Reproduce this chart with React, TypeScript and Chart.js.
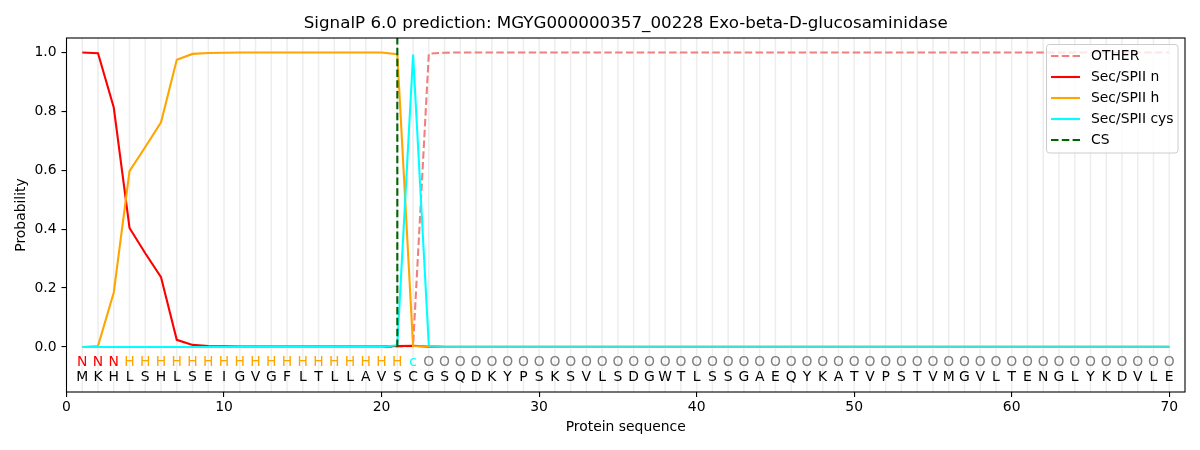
import React, { useEffect, useRef } from 'react';
import { Chart, registerables } from 'chart.js';

Chart.register(...registerables);

// residues and per-residue predicted labels
const residues = 'MKHLSHLSEIGVGFLTLLAVSCGSQDKYPSKSVLSDGWTLSSGAEQYKATVPSTVMGVLTENGLYKDVLE'.split('');
const regionLabels = ('NNN' + 'H'.repeat(18) + 'c' + 'O'.repeat(48)).split('');
const positions = residues.map((_, i) => i + 1);

const otherProb = [
  0, 0, 0, 0, 0, 0, 0, 0, 0, 0,
  0, 0, 0, 0, 0, 0, 0, 0, 0, 0,
  0.001, 0.003, 0.996, 0.999, 1, 1, 1, 1, 1, 1,
  1, 1, 1, 1, 1, 1, 1, 1, 1, 1,
  1, 1, 1, 1, 1, 1, 1, 1, 1, 1,
  1, 1, 1, 1, 1, 1, 1, 1, 1, 1,
  1, 1, 1, 1, 1, 1, 1, 1, 1, 1,
];
const nProb = [
  1.0, 0.997, 0.813, 0.404, 0.318, 0.237, 0.024, 0.007, 0.003, 0.002,
  0.001, 0.001, 0.001, 0.001, 0.001, 0.001, 0.001, 0.001, 0.001, 0.001,
  0.003, 0.004, 0.001, 0, 0, 0, 0, 0, 0, 0,
  0, 0, 0, 0, 0, 0, 0, 0, 0, 0,
  0, 0, 0, 0, 0, 0, 0, 0, 0, 0,
  0, 0, 0, 0, 0, 0, 0, 0, 0, 0,
  0, 0, 0, 0, 0, 0, 0, 0, 0, 0,
];
const hProb = [
  0, 0.003, 0.185, 0.597, 0.679, 0.763, 0.975, 0.995, 0.998, 0.999,
  1, 1, 1, 1, 1, 1, 1, 1, 1, 1,
  0.994, 0.003, 0.002, 0, 0, 0, 0, 0, 0, 0,
  0, 0, 0, 0, 0, 0, 0, 0, 0, 0,
  0, 0, 0, 0, 0, 0, 0, 0, 0, 0,
  0, 0, 0, 0, 0, 0, 0, 0, 0, 0,
  0, 0, 0, 0, 0, 0, 0, 0, 0, 0,
];
const cysProb = [
  0, 0, 0, 0, 0, 0, 0, 0, 0, 0,
  0, 0, 0, 0, 0, 0, 0, 0, 0, 0,
  0.006, 0.993, 0.003, 0.001, 0.001, 0.001, 0.001, 0.001, 0.001, 0.001,
  0.001, 0.001, 0.001, 0.001, 0.001, 0.001, 0.001, 0.001, 0.001, 0.001,
  0.001, 0.001, 0.001, 0.001, 0.001, 0.001, 0.001, 0.001, 0.001, 0.001,
  0.001, 0.001, 0.001, 0.001, 0.001, 0.001, 0.001, 0.001, 0.001, 0.001,
  0.001, 0.001, 0.001, 0.001, 0.001, 0.001, 0.001, 0.001, 0.001, 0.001,
];
const csPosition = 21;
const csSpan = [0, 1.05];

const xTicks = [0, 10, 20, 30, 40, 50, 60, 70];
const yTicks = [0, 0.2, 0.4, 0.6, 0.8, 1.0];

const FONT = 'DejaVu Sans';
const labelColors: Record<string, string> = { N: 'red', H: 'orange', c: 'cyan', O: 'gray' };

const legendItems = [
  { label: 'OTHER', color: '#F08080', dash: [7.5, 3.3] },
  { label: 'Sec/SPII n', color: 'red', dash: [] as number[] },
  { label: 'Sec/SPII h', color: 'orange', dash: [] as number[] },
  { label: 'Sec/SPII cys', color: 'cyan', dash: [] as number[] },
  { label: 'CS', color: '#006400', dash: [7.5, 3.3] },
];

const toPoints = (vals: number[]) => positions.map((p, i) => ({ x: p, y: vals[i] }));

// extra drawing matplotlib does: residue grid lines, frame, sequence text, title, legend
const decorPlugin = {
  id: 'decor',
  beforeDatasetsDraw(chart: any) {
    const { ctx, chartArea, scales } = chart;
    ctx.save();
    ctx.strokeStyle = '#ededed';
    ctx.lineWidth = 1.5;
    positions.forEach((p) => {
      const x = scales.x.getPixelForValue(p);
      ctx.beginPath();
      ctx.moveTo(x, chartArea.top);
      ctx.lineTo(x, chartArea.bottom);
      ctx.stroke();
    });
    ctx.restore();
  },
  afterDraw(chart: any) {
    const { ctx, chartArea, scales } = chart;
    ctx.save();
    // sequence rows
    ctx.font = `13.9px "${FONT}"`;
    ctx.textAlign = 'center';
    ctx.textBaseline = 'middle';
    const yTop = scales.y.getPixelForValue(-0.05);
    const yBot = scales.y.getPixelForValue(-0.1);
    positions.forEach((p, i) => {
      const x = scales.x.getPixelForValue(p);
      ctx.fillStyle = labelColors[regionLabels[i]];
      ctx.fillText(regionLabels[i], x, yTop + 1);
      ctx.fillStyle = '#000';
      ctx.fillText(residues[i], x, yBot + 1);
    });

    // frame
    ctx.strokeStyle = '#000';
    ctx.lineWidth = 1.1;
    ctx.strokeRect(chartArea.left, chartArea.top, chartArea.right - chartArea.left, chartArea.bottom - chartArea.top);

    // title
    ctx.font = `16.7px "${FONT}"`;
    ctx.fillStyle = '#000';
    ctx.fillText(
      'SignalP 6.0 prediction: MGYG000000357_00228 Exo-beta-D-glucosaminidase',
      (chartArea.left + chartArea.right) / 2,
      23.5
    );

    // legend
    const bx = 1046.5, by = 44.5, bw = 131.5, bh = 108.5;
    ctx.beginPath();
    ctx.roundRect(bx, by, bw, bh, 3);
    ctx.fillStyle = 'rgba(255,255,255,0.8)';
    ctx.fill();
    ctx.strokeStyle = '#cccccc';
    ctx.lineWidth = 1;
    ctx.stroke();
    ctx.font = `13.9px "${FONT}"`;
    ctx.textAlign = 'left';
    legendItems.forEach((it, i) => {
      const y = 56 + i * 21;
      ctx.beginPath();
      ctx.setLineDash(it.dash);
      ctx.strokeStyle = it.color;
      ctx.lineWidth = 2.1;
      ctx.moveTo(1051, y);
      ctx.lineTo(1080, y);
      ctx.stroke();
      ctx.setLineDash([]);
      ctx.fillStyle = '#000';
      ctx.fillText(it.label, 1091, y);
    });
    ctx.restore();
  },
};

const App: React.FC = () => {
  const canvasRef = useRef<HTMLCanvasElement>(null);

  useEffect(() => {
    if (!canvasRef.current) return;
    Chart.defaults.font.family = FONT;
    Chart.defaults.color = '#000';

    const chart = new Chart(canvasRef.current, {
      type: 'line',
      data: {
        datasets: [
          {
            label: 'OTHER',
            data: toPoints(otherProb),
            borderColor: '#F08080',
            borderDash: [7.5, 3.3],
            borderWidth: 2.1,
            order: 5,
          },
          {
            label: 'Sec/SPII n',
            data: toPoints(nProb),
            borderColor: 'red',
            borderWidth: 2.1,
            order: 4,
          },
          {
            label: 'Sec/SPII h',
            data: toPoints(hProb),
            borderColor: 'orange',
            borderWidth: 2.1,
            order: 3,
          },
          {
            label: 'Sec/SPII cys',
            data: toPoints(cysProb),
            borderColor: 'cyan',
            borderWidth: 2.1,
            order: 2,
            segment: {
              borderColor: (c: any) => (c.p0.parsed.x >= 23 ? '#40E0D0' : 'cyan'),
            },
          },
          {
            label: 'CS',
            data: csSpan.map((y) => ({ x: csPosition, y })),
            borderColor: '#006400',
            borderDash: [7.5, 3.3],
            borderWidth: 2.1,
            order: 1,
          },
        ],
      },
      options: {
        responsive: true,
        maintainAspectRatio: false,
        animation: false,
        layout: { padding: { left: 0, right: 15, top: 38, bottom: 0 } },
        elements: { point: { radius: 0 }, line: { tension: 0 } },
        plugins: { legend: { display: false }, tooltip: { enabled: false }, title: { display: false } },
        scales: {
          x: {
            type: 'linear',
            min: 0,
            max: 71,
            border: { display: false },
            grid: { drawOnChartArea: false, drawTicks: true, tickLength: 5, color: '#000', lineWidth: 1.1 },
            ticks: { padding: 2, font: { size: 13.9 }, color: '#000' },
            afterBuildTicks: (s: any) => {
              s.ticks = xTicks.map((v) => ({ value: v }));
            },
            afterFit: (s: any) => {
              s.height = 58;
            },
            title: {
              display: true,
              text: 'Protein sequence',
              font: { size: 13.9 },
              color: '#000',
              padding: { top: 0, bottom: 14.5 },
            },
          },
          y: {
            type: 'linear',
            min: -0.153,
            max: 1.049,
            border: { display: false },
            grid: { drawOnChartArea: false, drawTicks: true, tickLength: 5, color: '#000', lineWidth: 1.1 },
            ticks: {
              padding: 5,
              font: { size: 13.9 },
              color: '#000',
              callback: (v: any) => Number(v).toFixed(1),
            },
            afterBuildTicks: (s: any) => {
              s.ticks = yTicks.map((v) => ({ value: v }));
            },
            afterFit: (s: any) => {
              s.width = 66.5;
            },
            title: {
              display: true,
              text: 'Probability',
              font: { size: 13.9 },
              color: '#000',
              padding: { top: 13, bottom: 0 },
            },
          },
        },
      },
      plugins: [decorPlugin],
    });

    return () => chart.destroy();
  }, []);

  return (
    <div style={{ position: 'absolute', left: 0, top: 0, width: 1200, height: 450, background: '#fff' }}>
      <canvas ref={canvasRef} />
    </div>
  );
};

export default App;
